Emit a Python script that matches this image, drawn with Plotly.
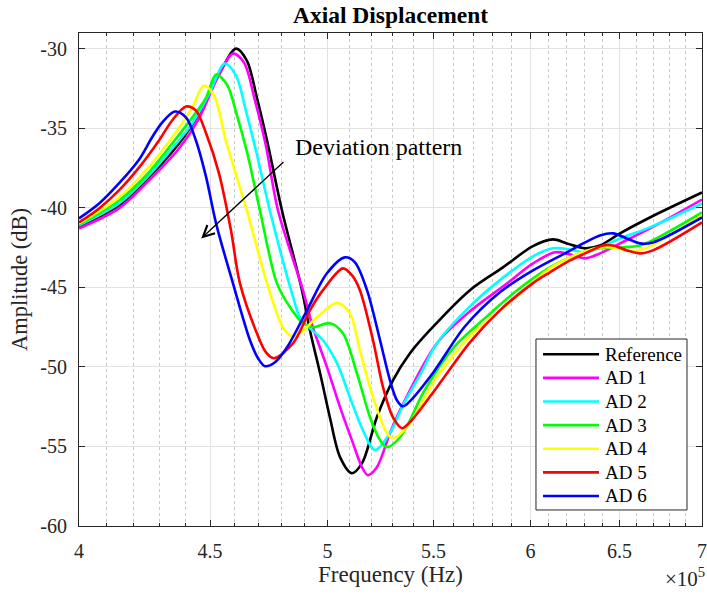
import numpy as np
import plotly.graph_objects as go

# Frequencies are given in units of 1e5 Hz (axis shows x10^5), amplitudes in dB.
FREQ_UNIT = 1e5

ref_f = [4.000, 4.146, 4.248, 4.376, 4.455, 4.540, 4.606, 4.651, 4.693, 4.736, 4.800,
         4.887, 4.922, 4.967, 5.011, 5.057, 5.111, 5.158, 5.227, 5.303, 5.385, 5.482,
         5.683, 5.854, 6.014, 6.123, 6.200, 6.302, 6.387, 6.503, 6.680, 7.000]
ref_db = [-41.16, -39.84, -38.27, -35.95, -34.07, -31.49, -29.98, -30.73, -33.06, -35.76, -40.16,
          -45.17, -47.69, -50.38, -53.16, -55.67, -56.68, -56.05, -53.16, -50.84, -49.14, -47.69,
          -45.17, -43.74, -42.40, -41.98, -42.23, -42.54, -42.36, -41.60, -40.60, -39.03]

ad1_f = [4.000, 4.146, 4.248, 4.376, 4.455, 4.532, 4.593, 4.639, 4.685, 4.731, 4.783,
         4.891, 4.935, 4.998, 5.057, 5.116, 5.158, 5.185, 5.227, 5.289, 5.351, 5.517,
         5.683, 5.864, 6.014, 6.134, 6.217, 6.302, 6.387, 6.503, 6.680, 7.000]
ad1_db = [-41.29, -40.03, -38.46, -36.26, -34.38, -31.74, -30.30, -30.86, -33.25, -36.07, -40.16,
          -45.17, -47.50, -50.01, -52.53, -54.79, -56.31, -56.80, -56.31, -54.16, -52.34, -48.51,
          -46.50, -44.85, -43.49, -42.79, -42.92, -43.17, -42.86, -42.23, -41.29, -39.47]

ad2_f = [4.000, 4.146, 4.248, 4.349, 4.428, 4.496, 4.560, 4.606, 4.647, 4.689, 4.748,
         4.848, 4.878, 4.922, 4.980, 5.043, 5.102, 5.162, 5.218, 5.289, 5.351, 5.433,
         5.517, 5.683, 5.838, 6.014, 6.123, 6.217, 6.302, 6.387, 6.503, 6.680, 7.000]
ad2_db = [-41.10, -39.72, -38.15, -36.26, -34.69, -32.81, -30.92, -31.68, -33.88, -36.39, -40.16,
          -45.60, -46.88, -47.57, -48.32, -49.76, -51.90, -53.98, -55.23, -54.16, -52.41, -50.52,
          -48.51, -46.19, -44.54, -43.04, -42.54, -42.61, -42.79, -42.48, -41.92, -41.22, -39.72]

ad3_f = [4.000, 4.146, 4.248, 4.349, 4.428, 4.484, 4.524, 4.569, 4.610, 4.651, 4.706,
         4.778, 4.835, 4.891, 4.935, 5.011, 5.070, 5.134, 5.195, 5.242, 5.275, 5.337,
         5.385, 5.448, 5.597, 5.770, 5.944, 6.106, 6.217, 6.302, 6.387, 6.503, 6.621,
         6.741, 7.000]
ad3_db = [-41.04, -39.53, -37.96, -35.95, -34.32, -33.06, -31.61, -32.25, -34.19, -36.45, -40.16,
          -44.73, -46.25, -47.25, -47.50, -47.25, -47.88, -50.38, -53.16, -54.60, -55.04, -54.42,
          -53.35, -51.65, -48.83, -46.82, -45.04, -43.74, -43.11, -42.79, -42.54, -42.48, -42.36,
          -41.79, -40.28]

ad4_f = [4.000, 4.146, 4.248, 4.349, 4.428, 4.475, 4.516, 4.564, 4.651, 4.736, 4.804,
         4.843, 4.878, 4.953, 5.043, 5.102, 5.148, 5.209, 5.275, 5.303, 5.370, 5.517,
         5.683, 5.891, 6.106, 6.217, 6.302, 6.387, 6.462, 6.579, 6.680, 7.000]
ad4_db = [-40.97, -39.34, -37.64, -35.57, -33.69, -32.31, -32.93, -35.76, -40.16, -44.73, -47.50,
          -48.07, -47.88, -46.88, -45.97, -46.63, -48.95, -51.90, -54.16, -54.48, -53.79, -50.63,
          -48.07, -45.93, -43.80, -43.11, -42.73, -42.48, -42.48, -42.73, -42.42, -40.47]

ad5_f = [4.000, 4.073, 4.146, 4.222, 4.298, 4.349, 4.404, 4.443, 4.484, 4.536, 4.585,
         4.622, 4.693, 4.731, 4.765, 4.848, 4.922, 4.980, 5.070, 5.111, 5.148, 5.209,
         5.256, 5.303, 5.346, 5.385, 5.517, 5.683, 5.838, 6.014, 6.106, 6.217, 6.302,
         6.404, 6.462, 6.544, 6.621, 6.698, 7.000]
ad5_db = [-40.91, -40.03, -38.90, -37.45, -35.76, -34.50, -33.62, -33.88, -35.32, -37.83, -41.41,
          -44.73, -47.88, -49.07, -49.45, -48.51, -46.44, -45.17, -43.80, -44.23, -45.17, -48.32,
          -51.27, -53.16, -53.85, -53.47, -51.27, -48.45, -46.44, -44.73, -44.05, -43.30, -42.86,
          -42.36, -42.36, -42.67, -42.86, -42.67, -40.91]

ad6_f = [4.000, 4.073, 4.146, 4.222, 4.271, 4.310, 4.360, 4.404, 4.443, 4.484, 4.524,
         4.593, 4.664, 4.698, 4.727, 4.770, 4.822, 4.909, 4.998, 5.079, 5.125, 5.181,
         5.242, 5.289, 5.322, 5.351, 5.385, 5.497, 5.658, 5.838, 6.014, 6.200, 6.302,
         6.387, 6.462, 6.544, 6.621, 6.698, 7.000]
ad6_db = [-40.66, -39.72, -38.46, -36.95, -35.57, -34.63, -33.94, -34.32, -35.76, -38.08, -40.97,
          -44.73, -48.32, -49.45, -49.95, -49.70, -48.76, -46.44, -44.11, -43.11, -43.42, -45.17,
          -48.32, -50.84, -52.09, -52.47, -52.15, -50.38, -47.44, -45.30, -43.93, -42.79, -42.17,
          -41.73, -41.60, -41.92, -42.23, -42.17, -40.60]

series_names = ["Reference", "AD 1", "AD 2", "AD 3", "AD 4", "AD 5", "AD 6"]
series_f = [ref_f, ad1_f, ad2_f, ad3_f, ad4_f, ad5_f, ad6_f]
series_db = [ref_db, ad1_db, ad2_db, ad3_db, ad4_db, ad5_db, ad6_db]
series_colors = ["#000000", "#ff00ff", "#00ffff", "#00ff00", "#ffff00", "#ff0000", "#0000ff"]

x_ticks = [4, 4.5, 5, 5.5, 6, 6.5, 7]
x_tick_labels = ["4", "4.5", "5", "5.5", "6", "6.5", "7"]
x_minor = [round(4 + 0.1 * i, 1) for i in range(31)]
y_ticks = [-60, -55, -50, -45, -40, -35, -30]
y_tick_labels = ["-60", "-55", "-50", "-45", "-40", "-35", "-30"]

FONT = "Liberation Serif, Times New Roman, serif"
AXIS_COLOR = "#262626"
LINE_WIDTH = 2.6

fig = go.Figure()
for name, f, db, color in zip(series_names, series_f, series_db, series_colors):
    fig.add_trace(go.Scatter(
        x=np.array(f) * FREQ_UNIT, y=db, mode="lines", name=name, showlegend=False,
        line=dict(color=color, width=LINE_WIDTH, shape="spline", smoothing=0.9),
    ))

fig.update_layout(
    width=707, height=596,
    margin=dict(l=79, r=5, t=33, b=70, autoexpand=False),
    paper_bgcolor="white", plot_bgcolor="white",
    font=dict(family=FONT, color=AXIS_COLOR),
    title=dict(text="Axial Displacement", x=0.5, xref="paper", y=1 - 15 / 596,
               yref="container", xanchor="center", yanchor="middle",
               font=dict(family=FONT, size=23.5, color="#000000", weight="bold")),
    showlegend=False,
)

fig.update_xaxes(
    type="log", automargin=False,
    range=[np.log10(4 * FREQ_UNIT), np.log10(7 * FREQ_UNIT)],
    tickvals=[v * FREQ_UNIT for v in x_ticks], ticktext=x_tick_labels,
    ticks="inside", ticklen=6, tickwidth=1, tickcolor=AXIS_COLOR,
    showline=True, linecolor=AXIS_COLOR, linewidth=1, mirror="ticks",
    showgrid=True, gridcolor="#e2e2e2", gridwidth=1,
    tickfont=dict(family=FONT, size=20, color=AXIS_COLOR),
    ticklabelstandoff=7,
    minor=dict(tickvals=[v * FREQ_UNIT for v in x_minor], ticks="inside", ticklen=3,
               tickcolor=AXIS_COLOR, showgrid=True, gridcolor="#c8c8c8", griddash="dot",
               gridwidth=1),
    title=dict(text="Frequency (Hz)", font=dict(family=FONT, size=23, color=AXIS_COLOR),
               standoff=3),
    zeroline=False,
)

fig.update_yaxes(
    range=[-60, -29], automargin=False,
    tickvals=y_ticks, ticktext=y_tick_labels,
    ticks="inside", ticklen=6, tickwidth=1, tickcolor=AXIS_COLOR,
    showline=True, linecolor=AXIS_COLOR, linewidth=1, mirror="ticks",
    showgrid=True, gridcolor="#e2e2e2", gridwidth=1,
    tickfont=dict(family=FONT, size=20, color=AXIS_COLOR),
    ticklabelstandoff=7,
    title=dict(text="Amplitude (dB)", font=dict(family=FONT, size=22.5, color=AXIS_COLOR),
               standoff=6),
    zeroline=False,
)

# Arrow showing the direction in which the curves deviate
fig.add_annotation(
    x=np.log10(4.464 * FREQ_UNIT), y=-41.92,
    ax=np.log10(4.813 * FREQ_UNIT), ay=-37.02,
    xref="x", yref="y", axref="x", ayref="y",
    text="", showarrow=True, arrowhead=5, arrowsize=1.7, arrowwidth=1.3,
    arrowcolor="#000000",
)
fig.add_annotation(
    x=np.log10(4.848 * FREQ_UNIT), y=-36.14, xref="x", yref="y",
    text="Deviation pattern", showarrow=False, xanchor="left", yanchor="middle",
    font=dict(family=FONT, size=24, color="#000000"),
)

# Exponent label for the frequency axis
fig.add_annotation(
    x=1.008, y=-0.105, xref="paper", yref="paper", xanchor="right", yanchor="middle",
    text="×10<sup>5</sup>", showarrow=False,
    font=dict(family=FONT, size=21, color=AXIS_COLOR),
)

# Legend box drawn in paper coordinates: long line samples followed by the labels
LEG_X0, LEG_X1 = 0.7335, 0.9759
LEG_Y0, LEG_Y1 = 0.0325, 0.3793
LEG_LINE_X0, LEG_LINE_X1 = 0.7448, 0.8347
LEG_TEXT_X = 0.8410
LEG_ROW_TOP, LEG_ROW_STEP = 0.3483, 0.04790

fig.add_shape(type="rect", xref="paper", yref="paper",
              x0=LEG_X0, x1=LEG_X1, y0=LEG_Y0, y1=LEG_Y1,
              line=dict(color=AXIS_COLOR, width=1), fillcolor="white", layer="above")
for i, (name, color) in enumerate(zip(series_names, series_colors)):
    row_y = LEG_ROW_TOP - i * LEG_ROW_STEP
    fig.add_shape(type="line", xref="paper", yref="paper",
                  x0=LEG_LINE_X0, x1=LEG_LINE_X1, y0=row_y, y1=row_y,
                  line=dict(color=color, width=LINE_WIDTH), layer="above")
    fig.add_annotation(x=LEG_TEXT_X, y=row_y, xref="paper", yref="paper",
                       xanchor="left", yanchor="middle", text=name, showarrow=False,
                       font=dict(family=FONT, size=19, color="#000000"))

fig.write_html("out.html")
